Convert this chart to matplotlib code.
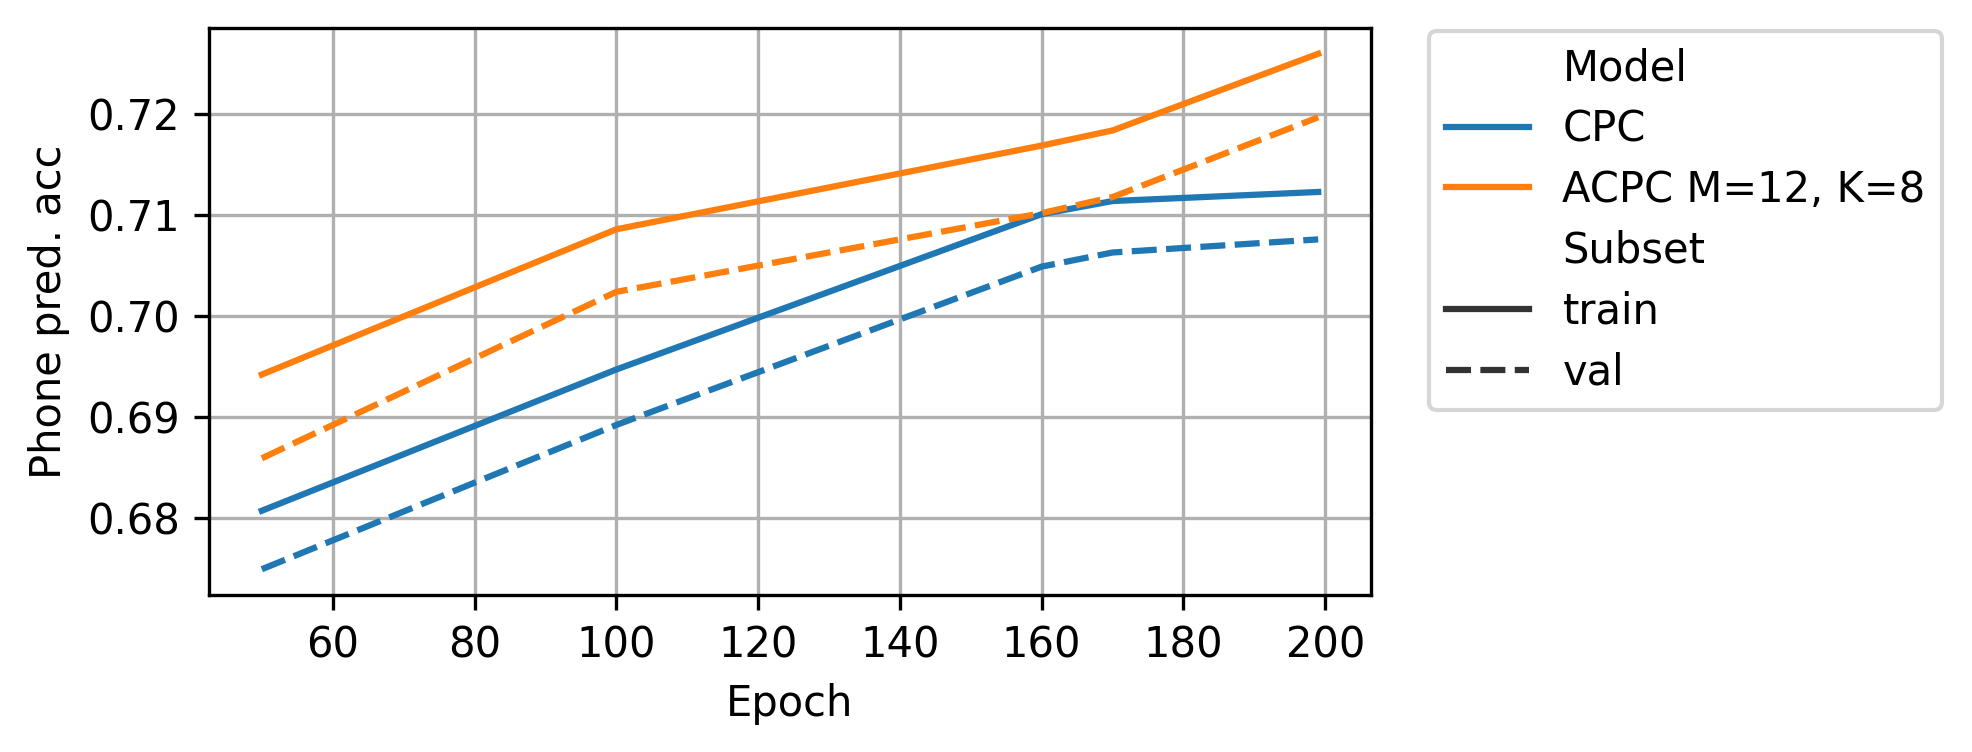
import pandas as pd
import matplotlib
matplotlib.use("Agg")
import matplotlib.pyplot as plt
import seaborn as sns

epochs = [50, 100, 160, 170, 199]
cpc_train = [0.6807, 0.6947, 0.7101, 0.7114, 0.7123]
cpc_val = [0.6749, 0.6892, 0.7049, 0.7063, 0.7076]
acpc_train = [0.6942, 0.7086, 0.7169, 0.7184, 0.7260]
acpc_val = [0.6859, 0.7024, 0.7102, 0.7118, 0.7197]

models = ["CPC", "ACPC M=12, K=8"]

rows = []
for model, train, val in [(models[0], cpc_train, cpc_val), (models[1], acpc_train, acpc_val)]:
    for e, t, v in zip(epochs, train, val):
        rows.append({"Epoch": e, "Phone pred. acc": t, "Model": model, "Subset": "train"})
        rows.append({"Epoch": e, "Phone pred. acc": v, "Model": model, "Subset": "val"})
df = pd.DataFrame(rows)

fig = plt.figure(figsize=(1972 / 300, 752 / 300), dpi=300)
ax = fig.add_axes([209 / 1972, 1 - 595 / 752, 1162 / 1972, 567 / 752])
sns.lineplot(data=df, x="Epoch", y="Phone pred. acc", hue="Model", style="Subset", ax=ax)
ax.grid(True)
ax.set_axisbelow(True)
ax.legend(bbox_to_anchor=(1.05, 0.995), loc=2, borderaxespad=0.0, labelspacing=0.45)

fig.savefig("out.png", dpi=300)
